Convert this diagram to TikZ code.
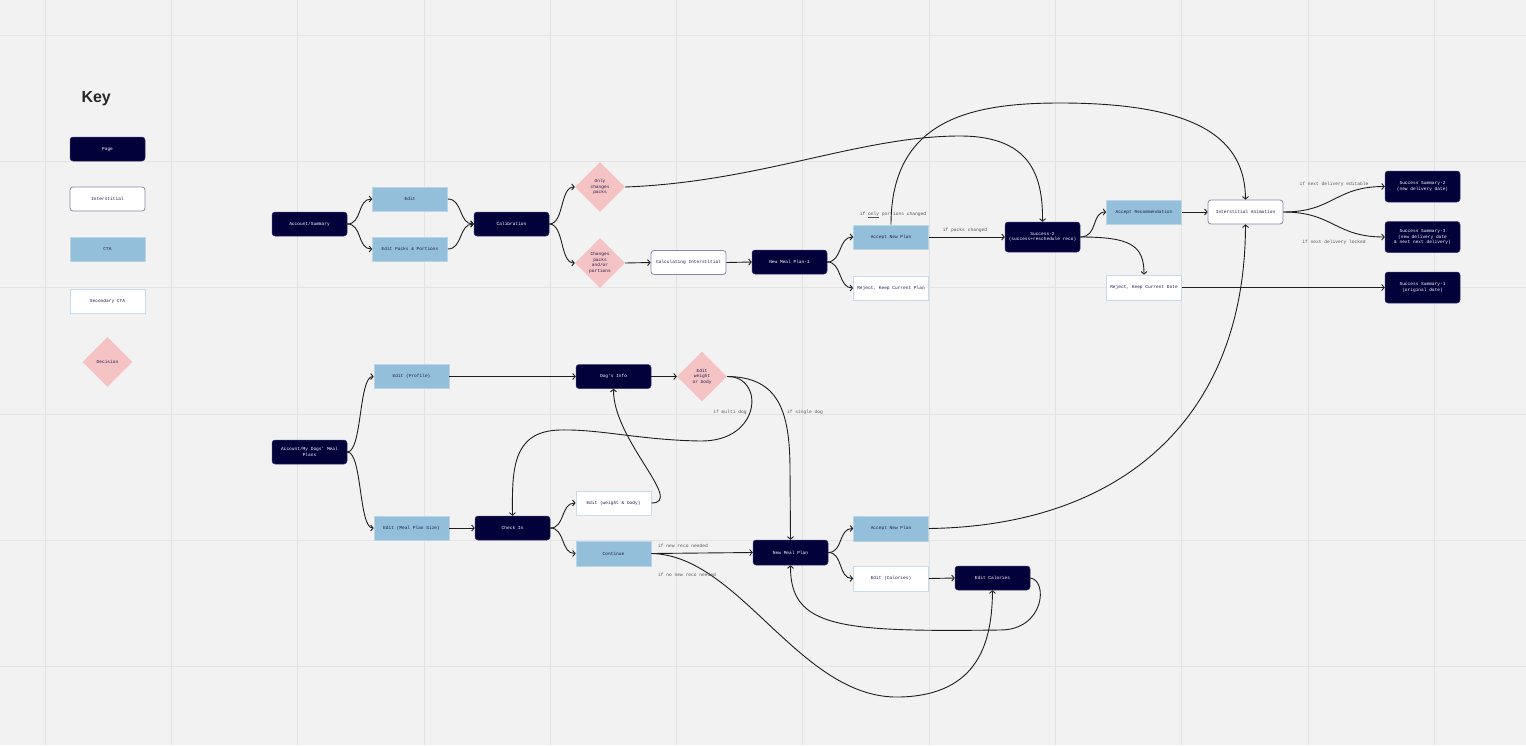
\documentclass[tikz,border=0pt]{standalone}
\usepackage{fontspec}
\newfontfamily\monof{Liberation Mono}
\newfontfamily\keyf{Liberation Sans}
\usetikzlibrary{shapes.geometric,arrows.meta}
\definecolor{bgc}{HTML}{F2F2F2}
\definecolor{gridc}{HTML}{E3E3E3}
\definecolor{pagec}{HTML}{03013A}
\definecolor{pageedge}{HTML}{3A3870}
\definecolor{ctac}{HTML}{94BFDA}
\definecolor{ctaedge}{HTML}{B9D5E8}
\definecolor{secedge}{HTML}{C6DCEB}
\definecolor{intedge}{HTML}{8A86A8}
\definecolor{decc}{HTML}{F5C3C3}
\definecolor{txtc}{HTML}{1F1B4D}
\definecolor{lblc}{HTML}{555555}
\definecolor{linec}{HTML}{1E1E1E}
\begin{document}
\begin{tikzpicture}[x=1pt,y=-1pt,
  base/.style={minimum width=75pt, minimum height=24pt, inner sep=1pt, align=center,
    font=\monof\fontsize{4.5}{5.6}\selectfont},
  pagebox/.style={base, fill=pagec, draw=pageedge, line width=0.5pt, rounded corners=3pt, text=white},
  intbox/.style={base, fill=white, draw=intedge, line width=0.8pt, rounded corners=3pt, text=txtc},
  ctabox/.style={base, fill=ctac, draw=ctaedge, line width=0.6pt, text=txtc},
  secbox/.style={base, fill=white, draw=secedge, line width=0.8pt, text=txtc},
  decbox/.style={diamond, aspect=1, fill=decc, inner sep=0pt, minimum width=50pt, minimum height=50pt,
    align=center, text=txtc, font=\monof\fontsize{4.5}{5.6}\selectfont},
  conn/.style={draw=linec, line width=0.9pt, -{Straight Barb[length=2.5pt,width=6pt]}},
  lbl/.style={font=\monof\fontsize{4.6}{5.6}\selectfont, text=lblc, inner sep=0pt}
]
\fill[bgc] (0,0) rectangle (1526,745);
\useasboundingbox (0,0) rectangle (1526,745);
\foreach \gx in {45,171.3,297.6,423.9,550.2,676.5,802.8,929.1,1055.4,1181.7,1308,1434.3}
  \draw[gridc, line width=0.8pt] (\gx,0) -- (\gx,745);
\foreach \gy in {35,161.3,287.6,413.9,540.2,666.5}
  \draw[gridc, line width=0.8pt] (0,\gy) -- (1526,\gy);

% Key
\node[font=\keyf\bfseries\fontsize{16}{18}\selectfont, text=black!85, anchor=west] (keytitle) at (78,99) {Key};
\node[pagebox] (kpage) at (107.5,149) {Page};
\node[intbox] (kint) at (107.5,199) {Interstitial};
\node[ctabox] (kcta) at (107.5,249) {CTA};
\node[secbox] (ksec) at (107.5,301) {Secondary CTA};
\node[decbox] (kdec) at (107.5,362) {Decision};

% Top flow
\node[pagebox] (accsum) at (309.5,224) {Account/Summary};
\node[ctabox] (edit) at (410,199) {Edit};
\node[ctabox] (editpp) at (410,249) {Edit Packs \& Portions};
\node[pagebox] (calib) at (511.5,224) {Calibration};
\node[decbox] (onlypacks) at (600,187) {Only\\changes\\packs};
\node[decbox] (changespp) at (600,263) {Changes\\packs\\and/or\\portions};
\node[intbox] (calcint) at (688.5,262.5) {Calculating Interstitial};
\node[pagebox] (nmp1) at (789.5,262) {New Meal Plan-1};
\node[ctabox] (anp1) at (891,237) {Accept New Plan};
\node[secbox] (rkcp) at (891,288) {Reject, Keep Current Plan};
\node[pagebox, minimum height=30pt] (succ2) at (1042.5,237) {Success-2\\(success+reschedule reco)};
\node[ctabox] (accrec) at (1144,212) {Accept Recommendation};
\node[secbox, minimum height=25pt] (rkcd) at (1144,287.5) {Reject, Keep Current Date};
\node[intbox] (intanim) at (1245.5,212) {Interstitial Animation};
\node[pagebox, minimum height=31pt] (ss2) at (1422.5,186.5) {Success Summary-2\\(new delivery date)};
\node[pagebox, minimum height=31pt] (ss3) at (1422.5,237) {Success Summary-3\\(new delivery date\\\& next next delivery)};
\node[pagebox, minimum height=31pt] (ss1) at (1422.5,287.5) {Success Summary-1\\(original date)};

% Bottom flow
\node[pagebox] (accdogs) at (309.5,452) {Account/My Dogs' Meal\\Plans};
\node[ctabox] (editprof) at (411.5,376.5) {Edit (Profile)};
\node[ctabox] (editmps) at (411.5,528) {Edit (Meal Plan Size)};
\node[pagebox] (dogsinfo) at (613.5,376.5) {Dog's Info};
\node[decbox] (editwb) at (702,376.5) {Edit\\weight\\or body};
\node[pagebox] (checkin) at (512.5,528) {Check In};
\node[secbox] (ewb) at (613.5,503) {Edit (weight \& body)};
\node[ctabox, minimum height=25pt] (cont) at (613.5,553.5) {Continue};
\node[pagebox, minimum height=25pt] (nmp) at (790.5,552.5) {New Meal Plan};
\node[ctabox, minimum height=25pt] (anp2) at (891,528.5) {Accept New Plan};
\node[secbox, minimum height=25pt] (ecalcta) at (891,578.5) {Edit (Calories)};
\node[pagebox] (ecal) at (992.5,578) {Edit Calories};

% Top connectors
\draw[conn] (accsum.east) .. controls +(15,0) and +(-15,0) .. (edit.west);
\draw[conn] (accsum.east) .. controls +(15,0) and +(-15,0) .. (editpp.west);
\draw[conn] (edit.east) .. controls +(15,0) and +(-15,0) .. (calib.west);
\draw[conn] (editpp.east) .. controls +(15,0) and +(-15,0) .. (calib.west);
\draw[conn] (calib.east) .. controls +(15,0) and +(-15,0) .. (onlypacks.west);
\draw[conn] (calib.east) .. controls +(15,0) and +(-15,0) .. (changespp.west);
\draw[conn] (onlypacks.east) .. controls (760,182) and (860,136) .. (960,136)
  .. controls (1030,136) and (1043,175) .. (succ2.north);
\draw[conn] (changespp.east) -- (calcint.west);
\draw[conn] (calcint.east) -- (nmp1.west);
\draw[conn] (nmp1.east) .. controls +(15,0) and +(-15,0) .. (anp1.west);
\draw[conn] (nmp1.east) .. controls +(15,0) and +(-15,0) .. (rkcp.west);
\draw[conn] (anp1.north) .. controls (891,120) and (970,103) .. (1060,103)
  .. controls (1200,103) and (1245,140) .. (intanim.north);
\draw[conn] (anp1.east) -- (succ2.west);
\draw[conn] (succ2.east) .. controls +(18,0) and +(-15,0) .. (accrec.west);
\draw[conn] (succ2.east) .. controls (1130,237) and (1144,245) .. (rkcd.north);
\draw[conn] (accrec.east) -- (intanim.west);
\draw[conn] (intanim.east) .. controls +(50,0) and +(-50,0) .. (ss2.west);
\draw[conn] (intanim.east) .. controls +(50,0) and +(-50,0) .. (ss3.west);
\draw[conn] (rkcd.east) -- (ss1.west);
\draw[conn] (anp2.east) .. controls (1120,526) and (1245,420) .. (intanim.south);

\node[lbl] (lonly) at (893,215) {if \underline{only} portions changed};
\node[lbl] (lpacks) at (965,230) {if packs changed};
\node[lbl] (ledit) at (1334,184.5) {if next delivery editable};
\node[lbl] (llock) at (1334,242) {if next delivery locked};

% Bottom connectors
\draw[conn] (accdogs.east) .. controls +(15,0) and +(-15,0) .. (editprof.west);
\draw[conn] (accdogs.east) .. controls +(15,0) and +(-15,0) .. (editmps.west);
\draw[conn] (editprof.east) -- (dogsinfo.west);
\draw[conn] (dogsinfo.east) -- (editwb.west);
\draw[conn] (editwb.east) .. controls (765,376) and (762,442) .. (700,441)
  .. controls (640,440) and (600,429) .. (560,430)
  .. controls (512,431) and (512,470) .. (checkin.north);
\draw[conn] (editwb.east) .. controls (778,377) and (790,410) .. (790,470) -- (nmp.north);
\draw[conn] (editmps.east) -- (checkin.west);
\draw[conn] (checkin.east) .. controls +(15,0) and +(-15,0) .. (ewb.west);
\draw[conn] (checkin.east) .. controls +(15,0) and +(-15,0) .. (cont.west);
\draw[conn] (ewb.east) .. controls (685,503) and (613,440) .. (dogsinfo.south);
\draw[conn] (cont.east) -- (nmp.west);
\draw[conn] (cont.east) .. controls (740,555) and (800,700) .. (900,697)
  .. controls (980,695) and (992,640) .. (ecal.south);
\draw[conn] (nmp.east) .. controls +(15,0) and +(-15,0) .. (anp2.west);
\draw[conn] (nmp.east) .. controls +(15,0) and +(-15,0) .. (ecalcta.west);
\draw[conn] (ecalcta.east) -- (ecal.west);
\draw[conn] (ecal.east) .. controls (1048,580) and (1045,630) .. (1000,630)
  .. controls (840,632) and (790,628) .. (nmp.south);

\node[lbl] (lmulti) at (730,412) {if multi dog};
\node[lbl] (lsingle) at (805,412) {if single dog};
\node[lbl] (lnew) at (683,546) {if new reco needed};
\node[lbl] (lnonew) at (687,574.5) {if no new reco needed};
\end{tikzpicture}
\end{document}
